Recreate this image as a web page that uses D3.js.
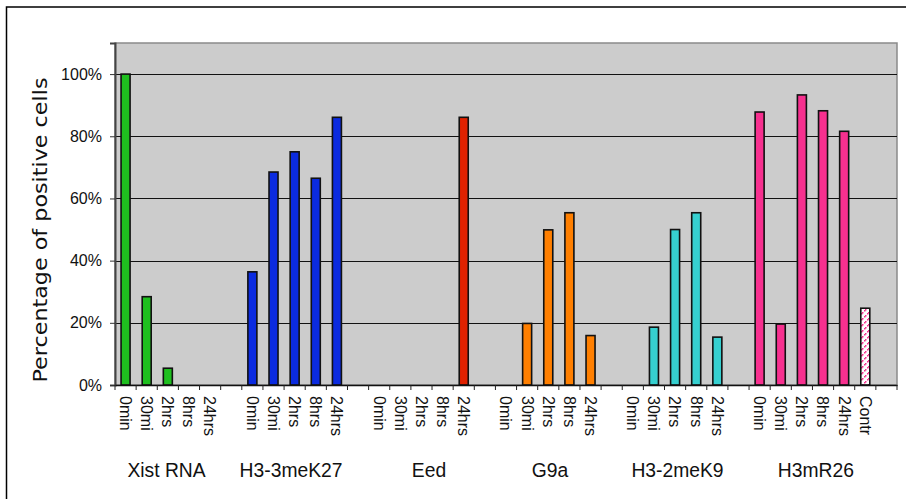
<!DOCTYPE html>
<html>
<head>
<meta charset="utf-8">
<script src="https://cdn.jsdelivr.net/npm/d3@7"></script>
<style>
html,body{margin:0;padding:0;background:#fff;}
svg{display:block;}
</style>
</head>
<body>
<svg id="chart" width="906" height="499"></svg>
<script>
// ---- data ----
const groups = ["Xist RNA", "H3-3meK27", "Eed", "G9a", "H3-2meK9", "H3mR26"];
const timepoints = ["0min", "30mi", "2hrs", "8hrs", "24hrs"];
const controlLabel = "Contr";
const xistValues   = [1.00, 0.284, 0.054, null, null];
const h3k27Values  = [0.364, 0.685, 0.75, 0.665, 0.861];
const eedValues    = [null, null, null, null, 0.861];
const g9aValues    = [null, 0.198, 0.499, 0.554, 0.159];
const h3k9Values   = [null, 0.186, 0.50, 0.554, 0.154];
const h3r26Values  = [0.878, 0.196, 0.933, 0.882, 0.816];
const h3r26Control = 0.247;
const yTickValues  = [0, 0.2, 0.4, 0.6, 0.8, 1.0];
const yTickLabels  = ["0%", "20%", "40%", "60%", "80%", "100%"];
const yTitle = "Percentage of positive cells";

// ---- styles ----
const seriesColors = ["#1fbf1f", "#0b2be0", "#e02200", "#ff7f00", "#36d0d0", "#f7308f"];
const groupLabelShift = [-1.3, -3.6, 7.5, 1.7, 2.4, 14];

const seriesValues = [xistValues, h3k27Values, eedValues, g9aValues, h3k9Values, h3r26Values];

(function () {
// build slot list
const slots = [];
groups.forEach((g, gi) => {
  timepoints.forEach((t, ti) => {
    slots.push({key: gi + "-" + ti, label: t, value: seriesValues[gi][ti], group: gi, control: false});
  });
  if (gi === groups.length - 1) {
    slots.push({key: gi + "-c", label: controlLabel, value: h3r26Control, group: gi, control: true});
  }
  slots.push({key: gi + "-gap", label: "", value: null, group: gi, gap: true});
});

const svg = d3.select("#chart");
const pL = 115, pR = 897, pT = 43, pB = 385;

// outer frame
svg.append("rect").attr("x", 6.5).attr("y", 7).attr("width", 1000).attr("height", 1000)
  .attr("fill", "none").attr("stroke", "#000").attr("stroke-width", 1.5);

const x = d3.scaleBand().domain(slots.map(s => s.key)).range([pL, pR])
  .paddingInner(0.574).paddingOuter(0.287);
const step = x.step();
const y = d3.scaleLinear().domain([0, 1.1]).range([pB, pT]);

// defs: pattern for control bar
const defs = svg.append("defs");
const pat = defs.append("pattern").attr("id", "ctrlPat").attr("patternUnits", "userSpaceOnUse")
  .attr("width", 6).attr("height", 6);
pat.append("rect").attr("width", 6).attr("height", 6).attr("fill", "#fff");
[[0,4],[1,3],[3,1],[4,0]].forEach(([px,py]) => {
  pat.append("rect").attr("x", px).attr("y", py).attr("width", 1.5).attr("height", 1.5).attr("fill", seriesColors[5]);
});

// plot area
svg.append("rect").attr("x", pL).attr("y", pT).attr("width", pR - pL).attr("height", pB - pT)
  .attr("fill", "#cccccc").attr("stroke", "#8a8a8a").attr("stroke-width", 1.5);

// gridlines
svg.append("g").selectAll("line").data(yTickValues.filter(v => v > 0)).join("line")
  .attr("x1", pL).attr("x2", pR)
  .attr("y1", d => Math.round(y(d)) + 0.5).attr("y2", d => Math.round(y(d)) + 0.5)
  .attr("stroke", "#111").attr("stroke-width", 1.2);

// y axis
const yAxis = d3.axisLeft(y).tickValues(yTickValues)
  .tickFormat((d, i) => yTickLabels[i]).tickSize(5).tickPadding(8);
const ya = svg.append("g").attr("transform", `translate(${pL},0)`).call(yAxis);
ya.select(".domain").attr("stroke", "#444").attr("stroke-width", 2);
ya.selectAll(".tick line").attr("stroke", "#333");
ya.selectAll("text").attr("font-family", "'Liberation Sans', Arial, sans-serif")
  .attr("font-size", 16).attr("fill", "#111");

// bars
svg.append("g").selectAll("rect").data(slots.filter(s => s.value != null)).join("rect")
  .attr("x", d => x(d.key))
  .attr("y", d => y(d.value))
  .attr("width", x.bandwidth())
  .attr("height", d => y(0) - y(d.value))
  .attr("fill", d => d.control ? "url(#ctrlPat)" : seriesColors[d.group])
  .attr("stroke", "#111").attr("stroke-width", 1.6);

// x axis
const xAxis = d3.axisBottom(x).tickSize(0).tickPadding(0).tickFormat((k) => slots.find(s => s.key === k).label);
const xa = svg.append("g").attr("transform", `translate(0,${pB})`).call(xAxis);
xa.select(".domain").attr("stroke", "#111").attr("stroke-width", 1.5);
xa.selectAll("text")
  .attr("font-family", "'Liberation Sans', Arial, sans-serif")
  .attr("font-size", 16).attr("fill", "#111")
  .attr("text-anchor", "start").attr("dy", "0.35em")
  .attr("transform", "translate(0,11) rotate(90)");

// boundary ticks
const boundaries = d3.range(slots.length + 1).map(i => pL + i * step);
svg.append("g").selectAll("line").data(boundaries).join("line")
  .attr("x1", d => d).attr("x2", d => d).attr("y1", pB).attr("y2", pB + 5)
  .attr("stroke", "#222").attr("stroke-width", 1);

// group labels
svg.append("g").selectAll("text").data(groups).join("text")
  .attr("x", (g, gi) => {
    const first = x(gi + "-0"), last = x(gi + "-4") + x.bandwidth();
    return (first + last) / 2 + groupLabelShift[gi];
  })
  .attr("y", 477)
  .attr("text-anchor", "middle")
  .attr("font-family", "'Liberation Sans', Arial, sans-serif")
  .attr("font-size", 19.3).attr("fill", "#111")
  .text(g => g);

// y title
svg.append("text")
  .attr("transform", "translate(47,230) rotate(-90)")
  .attr("text-anchor", "middle")
  .attr("font-family", "'DejaVu Sans', sans-serif")
  .attr("font-size", 19).attr("fill", "#111")
  .attr("textLength", 305).attr("lengthAdjust", "spacingAndGlyphs")
  .text(yTitle);
})();
</script>
</body>
</html>
